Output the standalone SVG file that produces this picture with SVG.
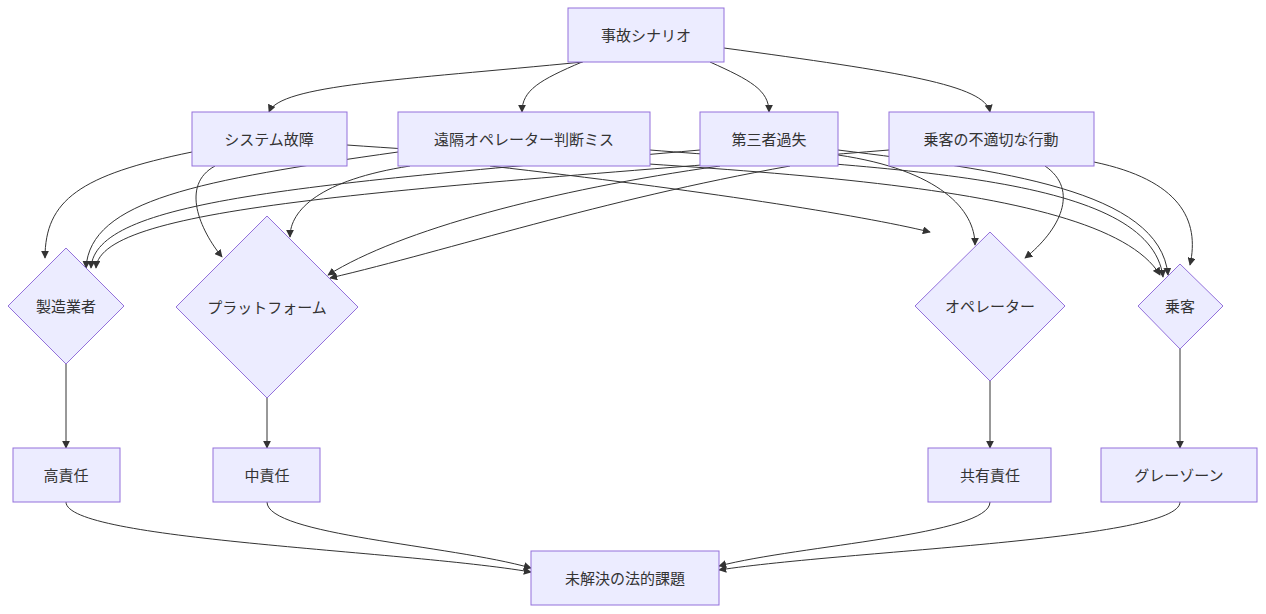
<svg xmlns="http://www.w3.org/2000/svg" width="1266" height="614" viewBox="0 0 1266 614">
<style>
.n{fill:#ECECFF;stroke:#9370DB;stroke-width:1}
.t{font-family:"Liberation Sans","Noto Sans CJK JP",sans-serif;font-size:15px;fill:#333;text-anchor:middle;dominant-baseline:central}
.e{fill:none;stroke:#333;stroke-width:1;marker-end:url(#a)}
</style>
<defs><marker id="a" viewBox="0 0 10 10" refX="9" refY="5" markerWidth="8" markerHeight="8" orient="auto"><path d="M0,0L10,5L0,10z" fill="#333"/></marker></defs>
<rect width="1266" height="614" fill="#fff"/>
<g id="edges">
<path class="e" d="M583,62C400,80 280,85 269,112"/>
<path class="e" d="M582,62C540,80 522,90 522,112"/>
<path class="e" d="M710,62C750,80 769,90 769,112"/>
<path class="e" d="M724,48C900,72 985,85 990,112"/>
<path class="e" d="M192,152C80,175 45,200 45,258"/>
<path class="e" d="M398,152C200,180 90,200 86,268"/>
<path class="e" d="M700,150C300,185 95,200 91,268"/>
<path class="e" d="M889,150C400,190 100,205 96,268"/>
<path class="e" d="M215,166C180,185 200,230 222,257"/>
<path class="e" d="M410,166C320,180 290,210 290,237"/>
<path class="e" d="M720,166C550,190 400,230 328,275"/>
<path class="e" d="M790,166C600,200 450,250 330,278"/>
<path class="e" d="M490,166C700,190 860,215 930,232"/>
<path class="e" d="M838,155C940,170 975,210 975,245"/>
<path class="e" d="M1045,166C1080,190 1060,230 1025,258"/>
<path class="e" d="M347,145C700,170 1100,175 1160,275"/>
<path class="e" d="M650,150C900,170 1150,175 1163,277"/>
<path class="e" d="M838,150C1000,170 1160,190 1168,275"/>
<path class="e" d="M1094,162C1180,180 1200,220 1190,265"/>
<path class="e" d="M66,364V448"/>
<path class="e" d="M267,398V448"/>
<path class="e" d="M990,381V448"/>
<path class="e" d="M1180,349V448"/>
<path class="e" d="M66,502C66,540 400,550 531,572"/>
<path class="e" d="M267,502C267,535 450,545 531,568"/>
<path class="e" d="M990,502C990,535 800,545 719,566"/>
<path class="e" d="M1180,502C1180,540 850,550 719,570"/>
</g>
<g id="n0"><rect class="n" x="568" y="8" width="156" height="54"/><text class="t" x="646" y="35">事故シナリオ</text></g>
<g id="n1"><rect class="n" x="192" y="112" width="155" height="54"/><text class="t" x="269" y="139">システム故障</text></g>
<g id="n2"><rect class="n" x="398" y="112" width="252" height="54"/><text class="t" x="524" y="139">遠隔オペレーター判断ミス</text></g>
<g id="n3"><rect class="n" x="700" y="112" width="138" height="54"/><text class="t" x="769" y="139">第三者過失</text></g>
<g id="n4"><rect class="n" x="889" y="112" width="205" height="54"/><text class="t" x="991" y="139">乗客の不適切な行動</text></g>
<g id="d1"><path class="n" d="M66,248L124,306L66,364L8,306z"/><text class="t" x="66" y="306">製造業者</text></g>
<g id="d2"><path class="n" d="M267,216L358,307L267,398L176,307z"/><text class="t" x="267" y="307">プラットフォーム</text></g>
<g id="d3"><path class="n" d="M990,232L1065,306L990,381L915,306z"/><text class="t" x="990" y="306">オペレーター</text></g>
<g id="d4"><path class="n" d="M1180,264L1223,306L1180,349L1138,306z"/><text class="t" x="1180" y="306">乗客</text></g>
<g id="r1"><rect class="n" x="13" y="448" width="107" height="54"/><text class="t" x="66" y="475">高責任</text></g>
<g id="r2"><rect class="n" x="213" y="448" width="107" height="54"/><text class="t" x="267" y="475">中責任</text></g>
<g id="r3"><rect class="n" x="928" y="448" width="123" height="54"/><text class="t" x="990" y="475">共有責任</text></g>
<g id="r4"><rect class="n" x="1101" y="448" width="156" height="54"/><text class="t" x="1179" y="475">グレーゾーン</text></g>
<g id="end"><rect class="n" x="531" y="551" width="188" height="54"/><text class="t" x="625" y="578">未解決の法的課題</text></g>
</svg>
